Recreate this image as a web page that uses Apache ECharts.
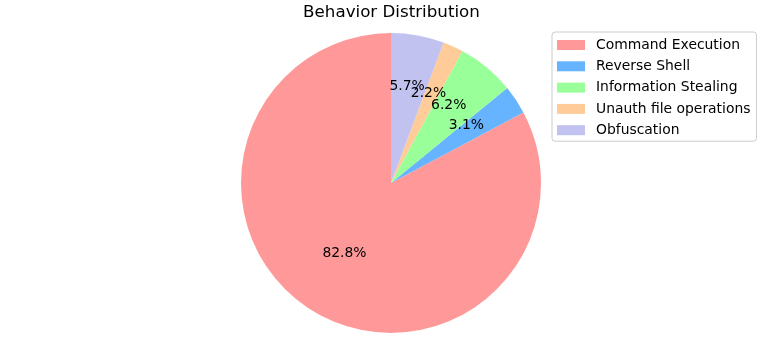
<!DOCTYPE html>
<html>
<head>
<meta charset="utf-8">
<script src="https://cdn.jsdelivr.net/npm/echarts@6/dist/echarts.min.js"></script>
<style>
html,body{margin:0;padding:0;background:#fff;}
#chart{width:783px;height:351px;}
</style>
</head>
<body>
<div id="chart"></div>
<script>
var categories = ['Command Execution', 'Reverse Shell', 'Information Stealing', 'Unauth file operations', 'Obfuscation'];
var values = [82.8, 3.1, 6.2, 2.2, 5.7];
var colors = ['#ff9999', '#66b3ff', '#99ff99', '#ffcc99', '#c2c2f0'];
var titleText = 'Behavior Distribution';

var FONT = 'DejaVu Sans';
var pieData = categories.map(function (c, i) { return { name: c, value: values[i] }; });

var chart = echarts.init(document.getElementById('chart'), null, { renderer: 'canvas' });
chart.setOption({
  backgroundColor: '#ffffff',
  animation: false,
  color: colors,
  title: {
    text: titleText,
    left: 'center',
    top: -1,
    textStyle: { fontFamily: FONT, fontSize: 16.7, fontWeight: 'normal', color: '#000' }
  },
  legend: {
    orient: 'vertical',
    left: 552,
    top: 32,
    data: categories,
    icon: 'rect',
    itemWidth: 28,
    itemHeight: 10,
    itemGap: 7.3,
    padding: [6, 6, 4, 5],
    borderColor: '#cccccc',
    borderWidth: 1,
    borderRadius: 3,
    textStyle: { fontFamily: FONT, fontSize: 13.9, color: '#000', lineHeight: 14, padding: [0, 0, 0, 6] }
  },
  series: [
    {
      type: 'pie',
      center: [391, 183],
      radius: [0, 150],
      startAngle: 90,
      clockwise: false,
      itemStyle: { borderWidth: 0 },
      label: { show: false },
      labelLine: { show: false },
      emphasis: { disabled: true },
      data: pieData
    },
    {
      type: 'pie',
      center: [391, 183],
      radius: [0, 175],
      startAngle: 90,
      clockwise: false,
      silent: true,
      avoidLabelOverlap: false,
      minShowLabelAngle: 0,
      itemStyle: { color: 'rgba(0,0,0,0)', borderWidth: 0 },
      label: {
        show: true,
        position: 'inside',
        offset: [0, -7.5],
        overflow: 'none',
        fontFamily: FONT,
        fontSize: 13.9,
        color: '#000',
        formatter: function (p) { return p.percent.toFixed(1) + '%'; }
      },
      labelLayout: { hideOverlap: false },
      labelLine: { show: false },
      emphasis: { disabled: true },
      data: pieData
    }
  ]
});
</script>
</body>
</html>
